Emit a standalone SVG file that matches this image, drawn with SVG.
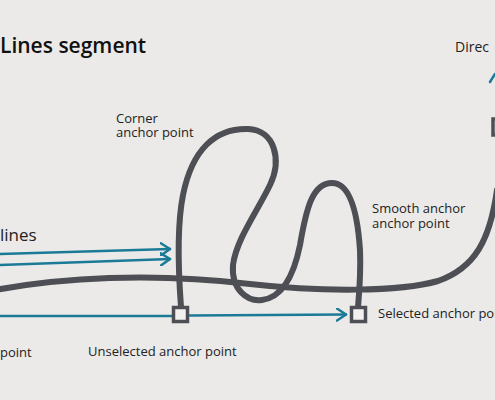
<svg xmlns="http://www.w3.org/2000/svg" width="495" height="400" viewBox="0 0 495 400">
<defs>
<style>
.bg{fill:#ebeae8}
.path{fill:none;stroke:#4d4f54;stroke-width:6;stroke-linecap:round;stroke-linejoin:round}
.teal{fill:none;stroke:#1b7b97;stroke-width:2.5;stroke-linecap:round;stroke-linejoin:round}
.anchor{fill:#f2f1ef;stroke:#4d4f54;stroke-width:3.5}
.lbl{font-family:"Open Sans","Noto Sans",sans-serif;font-size:13px;fill:#222}
.title{font-family:"Open Sans","Noto Sans",sans-serif;font-size:21px;font-weight:600;fill:#111}
</style>
<marker id="chev" viewBox="0 0 12 14" refX="10" refY="7" markerWidth="12" markerHeight="14" markerUnits="userSpaceOnUse" orient="auto">
<path d="M1,1 L10,7 L1,13" fill="none" stroke="#1b7b97" stroke-width="2.5" stroke-linecap="round" stroke-linejoin="round"/>
</marker>
</defs>
<rect class="bg" width="495" height="400"/>
<text class="title" x="0" y="53">Lines segment</text>
<text class="lbl" x="455" y="52" style="font-size:14px">Direc</text>
<text class="lbl" x="0" y="241" style="font-size:17px">lines</text>
<g id="connectors">
<path class="path" d="M-5,290 C60,278 150,272 250,284 C320,292 400,292 438,281 C475,268 490,240 497,190"/>
<path class="path" d="M181,307 C179,280 176,230 183,195 C192,150 215,128 248,129 C275,130 282,160 270,185 C258,210 236,240 233,265 C231,290 248,302 262,300 C285,297 295,270 300,245 C306,210 312,183 332,183 C352,183 358,220 360,250 C361,275 359,295 358,307"/>
<path class="teal" d="M-2,254 L170,249" marker-end="url(#chev)"/>
<path class="teal" d="M-2,265 L170,259" marker-end="url(#chev)"/>
<path class="teal" d="M-2,316 L172,316"/>
<path class="teal" d="M190,315.5 L346,314.5" marker-end="url(#chev)"/>
<path class="teal" d="M490,82 L495,74"/>
</g>
<g id="node-unselected">
<rect class="anchor" x="173.5" y="307.5" width="14" height="14"/>
<text class="lbl" x="88" y="356">Unselected anchor point</text>
</g>
<g id="node-selected">
<rect class="anchor" x="351.5" y="307.5" width="14" height="14"/>
<text class="lbl" x="378" y="318">Selected anchor point</text>
</g>
<g id="node-corner">
<text class="lbl" x="116" y="123">Corner</text>
<text class="lbl" x="116" y="137">anchor point</text>
</g>
<g id="node-smooth">
<text class="lbl" x="372" y="213">Smooth anchor</text>
<text class="lbl" x="372" y="228">anchor point</text>
</g>
<g id="node-left">
<text class="lbl" x="0" y="357">point</text>
</g>
<g id="node-topright">
<rect class="anchor" x="493" y="119" width="14" height="16"/>
</g>
</svg>
